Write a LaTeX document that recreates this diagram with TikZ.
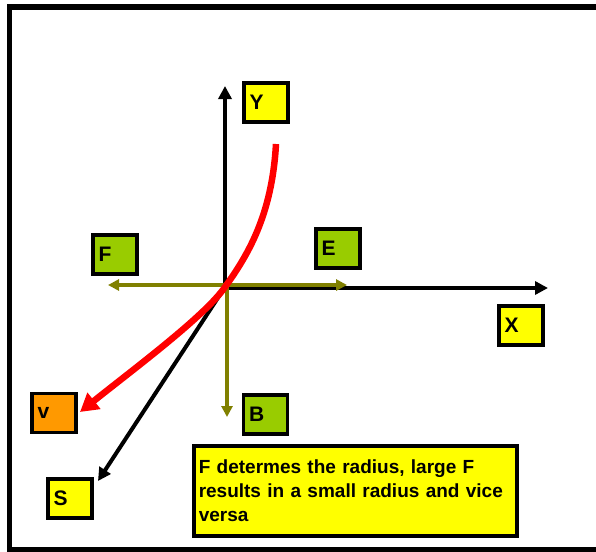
\documentclass[tikz,border=0pt]{standalone}
\usepackage{fontspec}
\setmainfont{Liberation Sans}
\usetikzlibrary{arrows.meta}
\definecolor{lyellow}{HTML}{FFFF00}
\definecolor{lgreen}{HTML}{99CC00}
\definecolor{lorange}{HTML}{FF9900}
\definecolor{olivec}{HTML}{808000}
\definecolor{redc}{HTML}{FF0000}
\begin{document}
\begin{tikzpicture}[x=1pt,y=-1pt,
  lbl/.style={draw=black,line width=3.5pt,minimum width=44pt,minimum height=39pt,inner sep=0pt,
    text width=33pt,align=left,font=\fontsize{21}{24}\selectfont\bfseries},
  axis/.style={black,line width=4pt,-{Triangle[length=13pt,width=13pt]}},
  olivearrow/.style={olivec,line width=4pt,-{Triangle[length=11pt,width=11pt]}},
  redarrow/.style={redc,line width=6.5pt,-{Triangle[length=18pt,width=20pt]}},
  note/.style={draw=black,fill=lyellow,line width=3.5pt,anchor=north west,minimum width=323pt,minimum height=90pt,
    inner xsep=5pt,inner ysep=6pt,text width=313pt,align=left,
    font=\fontsize{19}{24}\selectfont\bfseries}]
\useasboundingbox (0,0) rectangle (596,551);
\clip (0,0) rectangle (596,551);
\draw[line width=5.5pt] (620,7) -- (9.5,7) -- (9.5,549.5) -- (620,549.5);
% origin and axis ends
\coordinate (O) at (225,287);
\coordinate (Ytip) at (225,86);
\coordinate (Xtip) at (548,288);
\coordinate (Etip) at (347,285);
\coordinate (Ftip) at (108,285);
\coordinate (Btip) at (227,417);
\coordinate (Stip) at (98,481);
\coordinate (Rtop) at (276,144);
\coordinate (Vtip) at (80,412);
% labels
\node[lbl,fill=lyellow] (Y) at (266,102.5) {Y};
\node[lbl,fill=lgreen] (E) at (338,248.5) {E};
\node[lbl,fill=lyellow] (X) at (521,325.5) {X};
\node[lbl,fill=lgreen] (F) at (115,254.5) {F};
\node[lbl,fill=lgreen] (B) at (265.5,414.5) {B};
\node[lbl,fill=lorange] (v) at (54,413) {v};
\node[lbl,fill=lyellow] (S) at (70,498.5) {S};
\node[note] (N) at (192,444) {\hyphenpenalty=10000 F determes the radius, large F results in a small radius and vice versa};
% axes
\draw[axis] (O) -- (Ytip);
\draw[axis] ([xshift=-2pt]O |- Xtip) -- (Xtip);
\draw[axis] (O) -- (Stip);
% olive arrows
\draw[olivearrow] (O |- Etip) -- (Ftip);
\draw[olivearrow] (O |- Etip) -- (Etip);
\draw[olivearrow] (Btip |- O) -- (Btip);
% red curve
\draw[redarrow] (Rtop) .. controls (272,215) and (248,255) .. (O)
  .. controls (205,316) and (135,368) .. (Vtip);
\end{tikzpicture}
\end{document}
